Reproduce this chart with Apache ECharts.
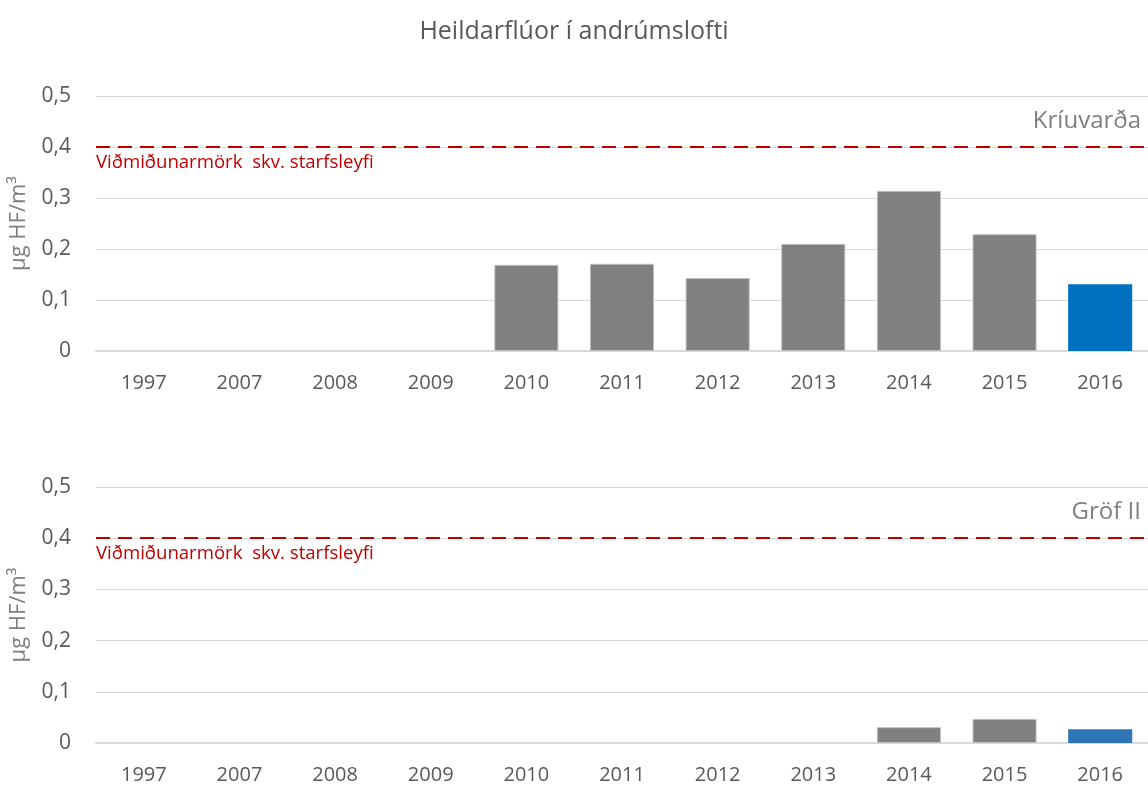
<!DOCTYPE html>
<html lang="is">
  <head>
    <meta charset="UTF-8" />
    <title>Heildarflúor í andrúmslofti</title>
    <script src="https://cdnjs.cloudflare.com/ajax/libs/echarts/6.0.0/echarts.min.js"></script>
    <style>
      html, body { margin: 0; padding: 0; background: #fff; }
      #main { width: 1148px; height: 785px; }
    </style>
  </head>
  <body>
    <div id="main"></div>
    <script type="text/javascript">
      // data
      var years = ["1997", "2007", "2008", "2009", "2010", "2011", "2012", "2013", "2014", "2015", "2016"];
      var kriuvarda = [null, null, null, null, 0.169, 0.171, 0.143, 0.21, 0.314, 0.229, 0.131];
      var grofII = [null, null, null, null, null, null, null, null, 0.031, 0.047, 0.027];
      var limit = 0.4;
      var yTicks = [0, 0.1, 0.2, 0.3, 0.4, 0.5];

      var font = "'Open Sans', sans-serif";
      var grey = "#595959";

      // last year gets its own colour
      function barData(values, lastColor) {
        return values.map(function (v, i) {
          if (i === values.length - 1) {
            return { value: v, itemStyle: { color: lastColor, borderWidth: 0 } };
          }
          return v;
        });
      }

      function xAxis(idx) {
        return {
          type: "category",
          gridIndex: idx,
          data: years,
          axisTick: { show: false },
          axisLine: { lineStyle: { color: "#d9d9d9", width: 2 } },
          axisLabel: { color: grey, fontSize: 20, fontFamily: font, margin: 22 }
        };
      }

      function yAxis(idx) {
        return {
          type: "value",
          gridIndex: idx,
          min: 0,
          max: 0.5,
          interval: 0.1,
          name: "µg HF/m³",
          nameLocation: "middle",
          nameRotate: 90,
          nameGap: 66,
          nameTextStyle: { color: "#7f7f7f", fontSize: 22, fontFamily: font },
          axisLine: { show: false },
          axisTick: { show: false },
          splitLine: { lineStyle: { color: "#d9d9d9", width: 1 } },
          axisLabel: {
            color: grey, fontSize: 21, fontFamily: font, margin: 25,
            formatter: function (v) {
              return yTicks.indexOf(Math.round(v * 10) / 10) >= 0 ? String(Math.round(v * 10) / 10).replace(".", ",") : "";
            }
          }
        };
      }

      function series(idx, values, lastColor) {
        return {
          type: "bar",
          xAxisIndex: idx,
          yAxisIndex: idx,
          data: barData(values, lastColor),
          barCategoryGap: "33%",
          itemStyle: { color: "#808080", borderColor: "#bfbfbf", borderWidth: 1 },
          markLine: {
            symbol: "none",
            silent: true,
            lineStyle: { color: "#c00000", type: [14, 8], width: 2 },
            label: {
              position: "insideStartBottom",
              formatter: "Viðmiðunarmörk  skv. starfsleyfi",
              color: "#c00000",
              fontSize: 18.6,
              fontFamily: font,
              distance: [0, 6]
            },
            data: [{ yAxis: limit }]
          }
        };
      }

      var myChart = echarts.init(document.getElementById("main"));

      var option = {
        animation: false,
        title: [
          {
            text: "Heildarflúor í andrúmslofti",
            left: "center",
            top: 14,
            textStyle: { color: grey, fontSize: 25, fontWeight: "normal", fontFamily: font }
          },
          {
            text: "Kríuvarða",
            right: 2,
            top: 104,
            textStyle: { color: "#7f7f7f", fontSize: 24, fontWeight: "normal", fontFamily: font }
          },
          {
            text: "Gröf II",
            right: 2,
            top: 495,
            textStyle: { color: "#7f7f7f", fontSize: 24, fontWeight: "normal", fontFamily: font }
          }
        ],
        grid: [
          { left: 96, right: 0, top: 96, height: 255, outerBoundsMode: "none" },
          { left: 96, right: 0, top: 487, height: 256, outerBoundsMode: "none" }
        ],
        xAxis: [xAxis(0), xAxis(1)],
        yAxis: [yAxis(0), yAxis(1)],
        series: [
          series(0, kriuvarda, "#0070c0"),
          series(1, grofII, "#2e75b6")
        ]
      };

      myChart.setOption(option);
    </script>
  </body>
</html>
